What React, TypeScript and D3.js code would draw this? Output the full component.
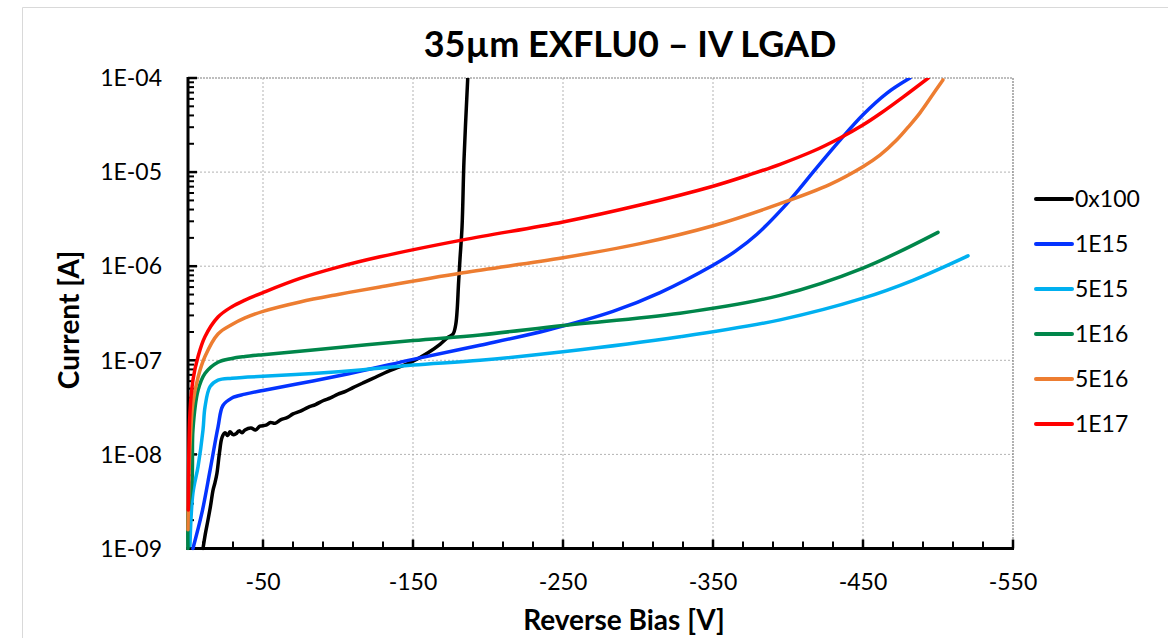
import React from "react";
import * as d3 from "d3";

// ---- data (bias in V, current in A as log10) ----
const seriesNames = ["0x100", "1E15", "5E15", "1E16", "5E16", "1E17"];
const seriesColors = ["#000000", "#0433FF", "#00B0F0", "#00864A", "#ED7D31", "#FF0000"];

const biasA = [-10, -11.5, -13.3, -15, -16.7, -18, -19.3, -21, -22.7, -24.7, -26.5, -28, -30, -32, -34, -36, -38, -42, -45, -48, -52, -55, -58, -62, -66, -70, -75, -80, -85, -90, -95, -100, -105, -110, -116.7, -125, -133, -141, -150, -160, -168, -173, -176.7, -178.5, -179.5, -180.3, -181.3, -182.7, -184, -186.5];
const logA = [-9.0, -8.85, -8.7, -8.55, -8.38, -8.3, -8.2, -7.98, -7.82, -7.77, -7.8, -7.76, -7.79, -7.78, -7.75, -7.77, -7.74, -7.72, -7.74, -7.7, -7.69, -7.66, -7.67, -7.63, -7.61, -7.57, -7.54, -7.5, -7.47, -7.43, -7.4, -7.36, -7.33, -7.29, -7.24, -7.18, -7.12, -7.07, -7.01, -6.92, -6.83, -6.76, -6.72, -6.62, -6.45, -6.2, -5.93, -5.58, -4.87, -4.0];

const biasB = [-3.3, -9.3, -14.7, -20, -23.3, -29.3, -38, -50, -83.3, -116.7, -150, -194.7, -239.3, -283.3, -314.7, -350, -365, -379.3, -396.7, -408, -416.7, -434.7, -450, -466, -481.3];
const logB = [-9.0, -8.62, -8.17, -7.71, -7.48, -7.4, -7.36, -7.32, -7.22, -7.11, -6.99, -6.84, -6.68, -6.48, -6.28, -5.99, -5.84, -5.66, -5.38, -5.17, -5.0, -4.66, -4.39, -4.16, -4.0];

const biasC = [-1.3, -3.3, -6.7, -10, -11.3, -14.7, -20, -29.3, -38, -50, -83.3, -116.7, -150, -194.7, -250, -328, -394.7, -450, -483.3, -520];
const logC = [-8.97, -8.41, -8.13, -7.74, -7.5, -7.28, -7.21, -7.19, -7.18, -7.17, -7.14, -7.1, -7.05, -7.0, -6.91, -6.75, -6.57, -6.34, -6.15, -5.89];

const biasD = [0, -0.2, -2.7, -3.3, -6.7, -11.3, -20, -29.3, -38, -50, -83.3, -150, -194.7, -250, -328, -394.7, -450, -500];
const logD = [-9.0, -8.6, -8.27, -7.74, -7.32, -7.14, -7.02, -6.98, -6.96, -6.94, -6.89, -6.79, -6.73, -6.63, -6.5, -6.31, -6.02, -5.64];

const biasE = [0, -1.3, -3.3, -6.7, -11.3, -20, -29.3, -38, -50, -74.7, -100, -128, -183.3, -250, -301.3, -350, -394.7, -428, -450.2, -461.3, -472.4, -481.3, -488, -495.5, -503.3];
const logE = [-8.8, -7.92, -7.45, -7.18, -6.96, -6.72, -6.62, -6.55, -6.48, -6.38, -6.3, -6.22, -6.07, -5.91, -5.76, -5.57, -5.335, -5.13, -4.94, -4.82, -4.66, -4.5, -4.37, -4.2, -4.02];

const biasF = [-0.2, -1.3, -3.3, -6.7, -11.3, -20, -29.3, -38, -50, -74.7, -100, -128, -183.3, -250, -301.3, -350, -375, -394.7, -416.9, -434.7, -450.2, -461.3, -476.9, -493.5];
const logF = [-8.59, -7.56, -7.21, -6.96, -6.75, -6.54, -6.43, -6.36, -6.28, -6.13, -6.01, -5.9, -5.72, -5.53, -5.35, -5.15, -5.025, -4.917, -4.776, -4.637, -4.497, -4.38, -4.2, -4.0];

const allBias = [biasA, biasB, biasC, biasD, biasE, biasF];
const allLog = [logA, logB, logC, logD, logE, logF];

const xTickValues = [-50, -150, -250, -350, -450, -550];
const yTickValues = [1e-9, 1e-8, 1e-7, 1e-6, 1e-5, 1e-4];
const yTickLabels = ["1E-09", "1E-08", "1E-07", "1E-06", "1E-05", "1E-04"];

const FONT = "Lato, 'Open Sans', sans-serif";

export default function App() {
  const W = 1168, H = 638;
  const left = 188, right = 1013, top = 78, bottom = 548.5;
  const x = d3.scaleLinear().domain([0, -550]).range([left, right]);
  const y = d3.scaleLog().domain([1e-9, 1e-4]).range([bottom, top]);

  const line = d3.line<[number, number]>()
    .x((d) => x(d[0]))
    .y((d) => y(d[1]))
    .curve(d3.curveCatmullRom.alpha(0.5));

  const series = seriesNames.map((name, i) => ({
    name,
    color: seriesColors[i],
    pts: allBias[i].map((v, j) => [v, Math.pow(10, allLog[i][j])] as [number, number]),
  }));

  const minorX = d3.range(-10, -551, -20).filter((v) => !xTickValues.includes(v));
  const minorY: number[] = [];
  for (let e = -9; e < -4; e++) for (let k = 2; k <= 9; k++) minorY.push(k * Math.pow(10, e));

  return (
    <svg width={W} height={H} style={{ display: "block", position: "absolute", left: 0, top: 0 }}>
      <rect x={0} y={0} width={W} height={H} fill="#fff" />
      {/* outer chart border */}
      <line x1={22.5} y1={7.5} x2={W} y2={7.5} stroke="#d9d9d9" strokeWidth={1} />
      <line x1={22.5} y1={7.5} x2={22.5} y2={H} stroke="#d9d9d9" strokeWidth={1} />

      <defs>
        <clipPath id="plot">
          <rect x={left - 4} y={top} width={right - left + 8} height={bottom - top + 2} />
        </clipPath>
      </defs>

      {/* gridlines */}
      {yTickValues.slice(1, 5).map((v) => (
        <line key={"gy" + v} x1={left} x2={right} y1={y(v)} y2={y(v)} stroke="#b3b3b3" strokeWidth={1} strokeDasharray="2,2" />
      ))}
      {xTickValues.slice(0, 5).map((v) => (
        <line key={"gx" + v} x1={x(v)} x2={x(v)} y1={top} y2={bottom} stroke="#b3b3b3" strokeWidth={1} strokeDasharray="2,2" />
      ))}
      <line x1={left} x2={right} y1={top} y2={top} stroke="#7f7f7f" strokeWidth={1.2} strokeDasharray="2,1" />
      <line x1={right} x2={right} y1={top} y2={bottom} stroke="#7f7f7f" strokeWidth={1.2} strokeDasharray="2,1" />

      {/* axes */}
      <line x1={left} x2={left} y1={top - 1} y2={bottom + 1.5} stroke="#000" strokeWidth={3} />
      <line x1={left - 1.5} x2={right + 1} y1={bottom} y2={bottom} stroke="#000" strokeWidth={3} />
      {yTickValues.map((v) => (
        <line key={"ty" + v} x1={left} x2={left + 9} y1={y(v)} y2={y(v)} stroke="#000" strokeWidth={2.5} />
      ))}
      {minorY.map((v) => (
        <line key={"tmy" + v} x1={left} x2={left + 6} y1={y(v)} y2={y(v)} stroke="#000" strokeWidth={2} />
      ))}
      {xTickValues.map((v) => (
        <line key={"tx" + v} x1={x(v)} x2={x(v)} y1={bottom} y2={bottom - 9} stroke="#000" strokeWidth={2.5} />
      ))}
      {minorX.map((v) => (
        <line key={"tmx" + v} x1={x(v)} x2={x(v)} y1={bottom} y2={bottom - 7} stroke="#000" strokeWidth={2} />
      ))}

      {/* tick labels */}
      {yTickValues.map((v, i) => (
        <text key={"ly" + v} x={162} y={y(v)} dy="0.36em" textAnchor="end" fontFamily={FONT} fontSize={23} fill="#000">
          {yTickLabels[i]}
        </text>
      ))}
      {xTickValues.map((v) => (
        <text key={"lx" + v} x={x(v)} y={590} textAnchor="middle" fontFamily={FONT} fontSize={23} fill="#000">
          {String(v)}
        </text>
      ))}

      {/* series */}
      <g clipPath="url(#plot)">
        {series.map((s) => (
          <path key={s.name} d={line(s.pts) || ""} fill="none" stroke={s.color} strokeWidth={3.5} strokeLinejoin="round" strokeLinecap="round" />
        ))}
      </g>

      {/* titles */}
      <text x={630} y={57} textAnchor="middle" fontFamily={FONT} fontWeight="bold" fontSize={36} fill="#000">
        35µm EXFLU0 – IV LGAD
      </text>
      <text x={624} y={630} textAnchor="middle" fontFamily={FONT} fontWeight="bold" fontSize={28} fill="#000">
        Reverse Bias [V]
      </text>
      <text transform="translate(79,320) rotate(-90)" textAnchor="middle" fontFamily={FONT} fontWeight="bold" fontSize={28} fill="#000">
        Current [A]
      </text>

      {/* legend */}
      {series.map((s, i) => (
        <g key={"lg" + s.name} transform={`translate(0,${199 + i * 45})`}>
          <line x1={1036} x2={1072} y1={0} y2={0} stroke={s.color} strokeWidth={4} strokeLinecap="round" />
          <text x={1075} y={0} dy="0.36em" fontFamily={FONT} fontSize={23} fill="#000">
            {s.name}
          </text>
        </g>
      ))}
    </svg>
  );
}
